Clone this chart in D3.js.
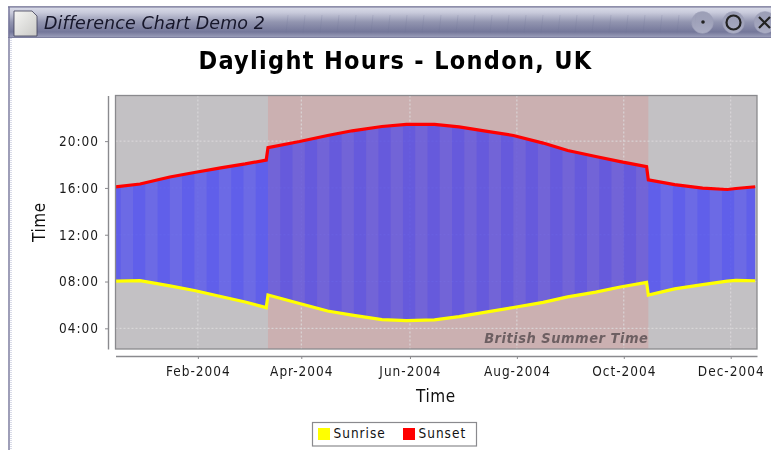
<!DOCTYPE html>
<html>
<head>
<meta charset="utf-8">
<script src="https://cdn.jsdelivr.net/npm/d3@7"></script>
<style>
html, body { margin: 0; padding: 0; background: #fff; }
svg { display: block; filter: blur(0.45px); font-family: "DejaVu Sans Condensed", "DejaVu Sans", sans-serif; font-stretch: condensed; }
</style>
</head>
<body>
<svg id="svg" width="771" height="450"></svg>
<script>
// values
var dates = ["2004-01-01","2004-01-15","2004-02-01","2004-02-15","2004-03-01","2004-03-15","2004-03-27","2004-03-28",
    "2004-04-15","2004-05-01","2004-05-15","2004-06-01","2004-06-15","2004-07-01","2004-07-15","2004-08-01",
    "2004-08-15","2004-09-01","2004-09-15","2004-10-01","2004-10-15","2004-10-30","2004-10-31","2004-11-15",
    "2004-12-01","2004-12-15","2004-12-20","2004-12-31"];
var sunrise = ["08:02","08:05","07:38","07:14","06:43","06:15","05:46","06:51",
    "06:07","05:29","05:08","04:45","04:40","04:43","05:00","05:26",
    "05:47","06:13","06:41","07:06","07:32","07:56","06:51","07:22",
    "07:44","08:02","08:06","08:04"];
var sunset = ["16:05","16:20","16:56","17:19","17:43","18:03","18:23","19:27",
    "19:58","20:29","20:53","21:15","21:26","21:26","21:13","20:49",
    "20:29","19:50","19:12","18:41","18:15","17:49","16:41","16:17",
    "15:59","15:52","15:57","16:06"];
var yTicks = ["04:00","08:00","12:00","16:00","20:00"];
var xTicks = ["2004-02-17","2004-04-16","2004-06-17","2004-08-17","2004-10-17","2004-12-17"];
var bst = ["2004-03-28","2004-10-31"];
var xDomain = ["2004-01-01","2005-01-01"];
var yDomain = ["02:14","23:54"];
var legendItems = ["Sunrise","Sunset"];
var legendColors = ["#ffff00","#ff0000"];

var parseDay = d3.utcParse("%Y-%m-%d");
function hours(s) {
    var p = s.split(":");
    return +p[0] + p[1] / 60;
}

var svg = d3.select("#svg");
var left = 115.5, right = 757, top_ = 95.5, bottom = 349;

var x = d3.scaleUtc().domain(xDomain.map(parseDay)).range([left, right]);
var y = d3.scaleLinear().domain(yDomain.map(hours)).range([bottom, top_]);

var rows = dates.map(function(d, i) {
    return { date: parseDay(d), rise: hours(sunrise[i]), set: hours(sunset[i]) };
});
var bstStart = parseDay(bst[0]), bstEnd = parseDay(bst[1]);

// window frame
var defs = svg.append("defs");
var grad = defs.append("linearGradient").attr("id", "bar").attr("x1", 0).attr("y1", 0).attr("x2", 0).attr("y2", 1);
[[0, "#dcdeea"], [0.2, "#c8cadb"], [0.5, "#9295b0"], [0.82, "#74779a"], [1, "#9da0bb"]].forEach(function(s) {
    grad.append("stop").attr("offset", s[0]).attr("stop-color", s[1]);
});
var page = defs.append("linearGradient").attr("id", "page").attr("x1", 0).attr("y1", 0).attr("x2", 1).attr("y2", 1);
page.append("stop").attr("offset", 0).attr("stop-color", "#f6f6f4");
page.append("stop").attr("offset", 1).attr("stop-color", "#c9c9c6");
var btn = defs.append("linearGradient").attr("id", "btn").attr("x1", 0).attr("y1", 0).attr("x2", 0).attr("y2", 1);
btn.append("stop").attr("offset", 0).attr("stop-color", "#8c8fa9");
btn.append("stop").attr("offset", 1).attr("stop-color", "#bfc1d4");

var frame = svg.append("g");
frame.append("rect").attr("x", 8.5).attr("y", 6.5).attr("width", 763).attr("height", 31).attr("fill", "url(#bar)");
frame.append("line").attr("x1", 8).attr("x2", 771).attr("y1", 6.8).attr("y2", 6.8).attr("stroke", "#6f6f92").attr("stroke-width", 1.2);
frame.append("line").attr("x1", 8).attr("x2", 771).attr("y1", 37.5).attr("y2", 37.5).attr("stroke", "#7d7f9f").attr("stroke-width", 1.2);
frame.append("line").attr("x1", 9).attr("x2", 9).attr("y1", 7).attr("y2", 450).attr("stroke", "#75759a").attr("stroke-width", 1.4);
frame.append("line").attr("x1", 11).attr("x2", 11).attr("y1", 38).attr("y2", 450).attr("stroke", "#d9dbe8").attr("stroke-width", 2).attr("stroke-dasharray", "1 1");
frame.selectAll(".hatch").data(d3.range(286, 700, 17)).enter().append("path").attr("class", "hatch")
    .attr("d", function(d) { return "M" + (d + 2) + ",15L" + d + ",33"; })
    .attr("stroke", "#6f7293").attr("stroke-width", 0.7).attr("opacity", 0.3).attr("fill", "none");
frame.append("path").attr("d", "M14,11H32L37,16V36H14Z").attr("fill", "url(#page)").attr("stroke", "#3d3d55").attr("stroke-width", 0.8);
frame.append("text").attr("x", 44).attr("y", 29).attr("font-family", "DejaVu Sans").style("font-stretch", "normal").attr("font-size", 17.5)
    .attr("letter-spacing", 0.1).attr("font-style", "italic").attr("fill", "#16162a").text("Difference Chart Demo 2");
frame.selectAll(".btn").data([702.5, 733.5, 765]).enter().append("circle").attr("class", "btn")
    .attr("cx", function(d) { return d; }).attr("cy", 22.5).attr("r", 11).attr("fill", "url(#btn)").attr("stroke", "#9799b3").attr("stroke-width", 0.5).attr("opacity", 0.75);
frame.append("circle").attr("cx", 703).attr("cy", 22).attr("r", 1.8).attr("fill", "#222");
frame.append("circle").attr("cx", 733.5).attr("cy", 22.5).attr("r", 7).attr("fill", "none").attr("stroke", "#222").attr("stroke-width", 2.2);
frame.append("path").attr("d", "M759,17L770,28M770,17L759,28").attr("stroke", "#222").attr("stroke-width", 2.2);

// title
svg.append("text").attr("x", 395.5).attr("y", 69).attr("text-anchor", "middle").attr("font-size", 25).attr("font-weight", "bold")
    .attr("letter-spacing", 1.3).attr("fill", "#000").text("Daylight Hours - London, UK");

// plot background
var plot = svg.append("g");
plot.append("rect").attr("x", left).attr("y", top_).attr("width", right - left).attr("height", bottom - top_).attr("fill", "#c3c1c4");
plot.append("rect").attr("x", x(bstStart)).attr("y", top_)
    .attr("width", x(bstEnd) - x(bstStart)).attr("height", bottom - top_).attr("fill", "#cbb0b1");

// grid
plot.selectAll(".gx").data(xTicks).enter().append("line").attr("class", "gx")
    .attr("x1", function(d) { return x(parseDay(d)); }).attr("x2", function(d) { return x(parseDay(d)); })
    .attr("y1", top_).attr("y2", bottom).attr("stroke", "#dcdadc").attr("stroke-width", 1).attr("stroke-dasharray", "2 2");
plot.selectAll(".gy").data(yTicks).enter().append("line").attr("class", "gy")
    .attr("y1", function(d) { return y(hours(d)); }).attr("y2", function(d) { return y(hours(d)); })
    .attr("x1", left).attr("x2", right).attr("stroke", "#dcdadc").attr("stroke-width", 1).attr("stroke-dasharray", "2 2");

// difference area, with the weekly stripes clipped to it
var area = d3.area().x(function(d) { return x(d.date); }).y0(function(d) { return y(d.rise); }).y1(function(d) { return y(d.set); });
defs.append("clipPath").attr("id", "diff").append("path").attr("d", area(rows));
plot.append("path").attr("d", area(rows)).attr("fill", "#4f4ff0").attr("fill-opacity", 0.86);
var clipped = plot.append("g").attr("clip-path", "url(#diff)");
clipped.append("rect").attr("x", x(bstStart)).attr("width", x(bstEnd) - x(bstStart)).attr("y", top_).attr("height", bottom - top_)
    .attr("fill", "#c0302f").attr("fill-opacity", 0.06);
var weeks = d3.utcWeek.range(parseDay(xDomain[0]), parseDay(xDomain[1]), 2);
clipped.selectAll(".week").data(weeks).enter().append("rect").attr("class", "week")
    .attr("x", function(d) { return x(d); })
    .attr("width", function(d) { return x(d3.utcDay.offset(d, 7)) - x(d); })
    .attr("y", top_).attr("height", bottom - top_)
    .attr("fill", function(d) { return d >= bstStart && d < bstEnd ? "#cbb0b1" : "#c3c1c4"; })
    .attr("fill-opacity", 0.12);

// series lines
var lineRise = d3.line().x(function(d) { return x(d.date); }).y(function(d) { return y(d.rise); });
var lineSet = d3.line().x(function(d) { return x(d.date); }).y(function(d) { return y(d.set); });
plot.append("path").attr("d", lineRise(rows)).attr("fill", "none").attr("stroke", legendColors[0]).attr("stroke-width", 3.2);
plot.append("path").attr("d", lineSet(rows)).attr("fill", "none").attr("stroke", legendColors[1]).attr("stroke-width", 3.2);

// marker label
plot.append("text").attr("x", x(bstEnd)).attr("y", 343).attr("text-anchor", "end").attr("font-size", 14.5)
    .attr("font-weight", "bold").attr("font-style", "italic").attr("letter-spacing", 0.5).attr("fill", "#6d5f62").text("British Summer Time");
plot.append("rect").attr("x", left).attr("y", top_).attr("width", right - left).attr("height", bottom - top_)
    .attr("fill", "none").attr("stroke", "#8a8a8e").attr("stroke-width", 1.3);

// axes
var fmtX = d3.utcFormat("%b-%Y");
var xAxis = d3.axisBottom(x).tickValues(xTicks.map(parseDay)).tickFormat(fmtX).tickSize(3).tickSizeOuter(0).tickPadding(7);
var yAxis = d3.axisLeft(y).tickValues(yTicks.map(hours)).tickFormat(function(d, i) { return yTicks[i]; }).tickSize(3).tickSizeOuter(0).tickPadding(6);
var gx = svg.append("g").attr("transform", "translate(0,356)").call(xAxis);
var gy = svg.append("g").attr("transform", "translate(108,0)").call(yAxis);
[gx, gy].forEach(function(g) {
    g.attr("font-family", null);
    g.selectAll("path").attr("stroke", "#8a8a8e").attr("stroke-width", 1.4);
    g.selectAll("line").attr("stroke", "#8a8a8e");
    g.selectAll("text").attr("font-size", 13.5).attr("letter-spacing", 1).attr("fill", "#1a1a1a");
});

svg.append("text").attr("x", 436).attr("y", 402).attr("text-anchor", "middle").attr("font-size", 17).attr("letter-spacing", 0.6).attr("fill", "#111").text("Time");
svg.append("text").attr("transform", "translate(45,222) rotate(-90)").attr("text-anchor", "middle").attr("font-size", 17).attr("letter-spacing", 0.6).attr("fill", "#111").text("Time");

// legend
var legend = svg.append("g");
legend.append("rect").attr("x", 312.5).attr("y", 422.5).attr("width", 164).attr("height", 23.5).attr("fill", "#fff").attr("stroke", "#8a8a8e").attr("stroke-width", 1.2);
var legendX = [318, 403];
legendItems.forEach(function(name, i) {
    legend.append("rect").attr("x", legendX[i]).attr("y", 428).attr("width", 12).attr("height", 12).attr("fill", legendColors[i]);
    legend.append("text").attr("x", legendX[i] + 15.5).attr("y", 438).attr("font-size", 13.5).attr("letter-spacing", 1).attr("fill", "#111").text(name);
});
</script>
</body>
</html>
